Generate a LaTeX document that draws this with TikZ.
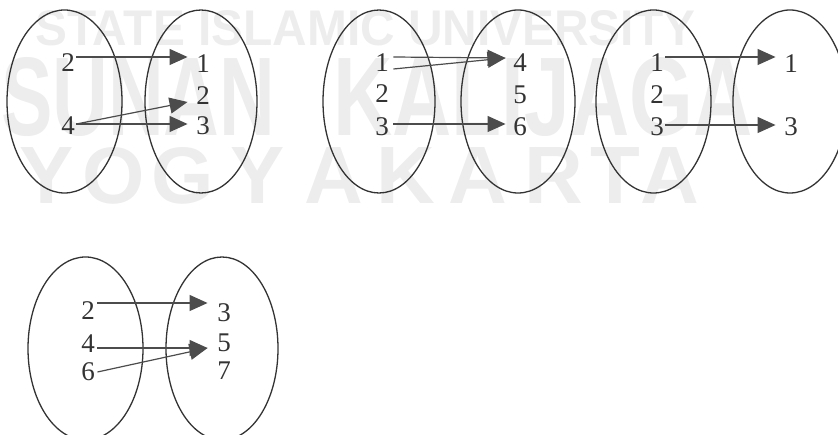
\documentclass[tikz,border=0pt]{standalone}
\usepackage{fontspec}
\usepackage{graphicx}
\setmainfont{Liberation Serif}
\setsansfont{Liberation Sans}
\usetikzlibrary{arrows.meta}
\begin{document}
\begin{tikzpicture}[x=1pt,y=-1pt,
  setline/.style={draw=black!80, line width=1.3pt},
  num/.style={font=\fontsize{27}{30}\selectfont, text=black!80, inner sep=0pt},
  maparrow/.style={draw=black!70, line width=1.2pt, -{Triangle[length=18pt,width=16pt,fill=black!70]}},
  wm/.style={text=black!7, inner sep=0pt, font=\sffamily\bfseries}
]
\useasboundingbox (0,0) rectangle (838,435);

% watermark
\node[wm, anchor=north west] (wm1) at (35,10) {\resizebox{660pt}{35pt}{STATE ISLAMIC UNIVERSITY}};
\node[wm, anchor=north west] (wm2) at (1,57) {\resizebox{274pt}{78pt}{SUNAN}};
\node[wm, anchor=north west] (wm3) at (333,57) {\resizebox{419pt}{78pt}{KALIJAGA}};
\node[wm, anchor=north] (y1) at (47,147) {\resizebox{!}{56pt}{Y}};
\node[wm, anchor=north] (y2) at (114,147) {\resizebox{!}{56pt}{O}};
\node[wm, anchor=north] (y3) at (183,147) {\resizebox{!}{56pt}{G}};
\node[wm, anchor=north] (y4) at (258,147) {\resizebox{!}{56pt}{Y}};
\node[wm, anchor=north] (y5) at (334,147) {\resizebox{!}{56pt}{A}};
\node[wm, anchor=north] (y6) at (406,147) {\resizebox{!}{56pt}{K}};
\node[wm, anchor=north] (y7) at (478,147) {\resizebox{!}{56pt}{A}};
\node[wm, anchor=north] (y8) at (554,147) {\resizebox{!}{56pt}{R}};
\node[wm, anchor=north] (y9) at (615,147) {\resizebox{!}{56pt}{T}};
\node[wm, anchor=north] (y10) at (670,147) {\resizebox{!}{56pt}{A}};

% ellipses
\draw[setline] (64.5,101.5) ellipse [x radius=57.5, y radius=91.5];
\draw[setline] (201,101.5) ellipse [x radius=56, y radius=91.5];
\draw[setline] (379,101.5) ellipse [x radius=56, y radius=91.5];
\draw[setline] (518,101.5) ellipse [x radius=57, y radius=91.5];
\draw[setline] (653.5,101.5) ellipse [x radius=57.5, y radius=91.5];
\draw[setline] (790,101.5) ellipse [x radius=57, y radius=91.5];
\draw[setline] (85.5,348.5) ellipse [x radius=57.5, y radius=91.5];
\draw[setline] (222,348.5) ellipse [x radius=56, y radius=91.5];

% diagram 1
\node[num] (a2) at (68,63) {2};
\node[num] (a4) at (68,126) {4};
\node[num] (b1) at (203,64) {1};
\node[num] (b2) at (203,96) {2};
\node[num] (b3) at (203,126) {3};
\draw[maparrow] ([shift={(1.5,-6)}]a2.east) -- ([shift={(-8.5,-7)}]b1.west);
\draw[maparrow] ([shift={(1.5,-2)}]a4.east) -- ([shift={(-8.5,-2)}]b3.west);
\draw[maparrow] ([shift={(1.5,-2)}]a4.east) -- ([shift={(-8.5,6)}]b2.west);

% diagram 2
\node[num] (c1) at (382,63) {1};
\node[num] (c2) at (382,94) {2};
\node[num] (c3) at (382,127) {3};
\node[num] (d4) at (520,63) {4};
\node[num] (d5) at (520,95) {5};
\node[num] (d6) at (520,127) {6};
\draw[maparrow] ([shift={(4.5,-6)}]c1.east) -- ([shift={(-7.5,-5)}]d4.west);
\draw[maparrow] ([shift={(4.5,-25)}]c2.east) -- ([shift={(-7.5,-5)}]d4.west);
\draw[maparrow] ([shift={(4.5,-3)}]c3.east) -- ([shift={(-7.5,-3)}]d6.west);

% diagram 3
\node[num] (e1) at (657,63) {1};
\node[num] (e2) at (657,95) {2};
\node[num] (e3) at (657,127) {3};
\node[num] (f1) at (791,64) {1};
\node[num] (f3) at (791,127) {3};
\draw[maparrow] ([shift={(1.5,-6)}]e1.east) -- ([shift={(-8.5,-7)}]f1.west);
\draw[maparrow] ([shift={(1.5,-2)}]e3.east) -- ([shift={(-8.5,-2)}]f3.west);

% diagram 4
\node[num] (g2) at (88,311) {2};
\node[num] (g4) at (88,344) {4};
\node[num] (g6) at (88,372) {6};
\node[num] (h3) at (224,313) {3};
\node[num] (h5) at (224,343) {5};
\node[num] (h7) at (224,371) {7};
\draw[maparrow] ([shift={(2.5,-8)}]g2.east) -- ([shift={(-9.5,-10)}]h3.west);
\draw[maparrow] ([shift={(2.5,4)}]g4.east) -- ([shift={(-9.5,5)}]h5.west);
\draw[maparrow] ([shift={(2.5,0)}]g6.east) -- ([shift={(-9.5,5)}]h5.west);
\end{tikzpicture}
\end{document}
